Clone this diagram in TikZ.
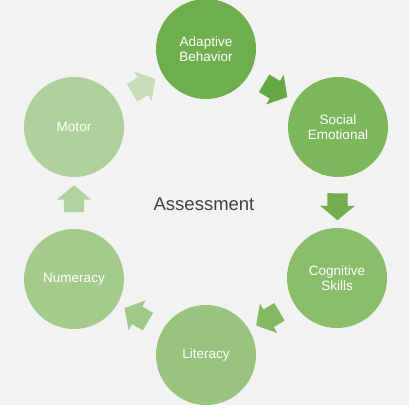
\documentclass[tikz,border=0pt]{standalone}
\usepackage{fontspec}
\setmainfont{Liberation Sans}
\usetikzlibrary{shapes.arrows}
\definecolor{bg}{HTML}{F2F2F2}
\definecolor{c1}{HTML}{6EAE4C}
\definecolor{c2}{HTML}{7DB75C}
\definecolor{c3}{HTML}{8BBE6A}
\definecolor{c4}{HTML}{98C47D}
\definecolor{c5}{HTML}{A4CB8B}
\definecolor{c6}{HTML}{AFD09B}
\definecolor{a1}{HTML}{66A843}
\definecolor{a2}{HTML}{72AE4E}
\definecolor{a3}{HTML}{84B963}
\definecolor{a4}{HTML}{A0CA88}
\definecolor{a5}{HTML}{AFD29F}
\definecolor{a6}{HTML}{C7DDBA}
\definecolor{txt}{HTML}{404040}
\tikzset{
  circ/.style={circle, minimum size=100pt, inner sep=0pt, align=center,
    text=white, font=\fontsize{13.5}{15}\selectfont},
  blockarrow/.style={single arrow, draw=none, minimum height=27pt,
    single arrow head extend=7pt, single arrow tip angle=100,
    inner xsep=0pt, inner ysep=10pt, text height=0pt, text depth=0pt,
    sloped, allow upside down, anchor=center}
}
\begin{document}
\begin{tikzpicture}[x=1pt,y=-1pt]
\useasboundingbox (0,0) rectangle (409,409);
\clip (0,0) rectangle (409,409);
\fill[white] (0,0) rectangle (409,409);
\fill[bg] (0,0) rectangle (409,405);
\node[circ, fill=c1] (ab) at (206,49) {Adaptive\\Behavior};
\node[circ, fill=c2] (se) at (338,127) {Social\\Emotional};
\node[circ, fill=c3] (cs) at (337,278) {Cognitive\\Skills};
\node[circ, fill=c4] (li) at (206,355) {Literacy};
\node[circ, fill=c5] (nu) at (74,279) {Numeracy};
\node[circ, fill=c6] (mo) at (74,127) {Motor};
\node[text=txt, font=\fontsize{18.5}{20}\selectfont] (as) at (204,204) {Assessment};
\path (ab) -- node[blockarrow, fill=a1] (r1) {} (se);
\path (se) -- node[blockarrow, fill=a2] (r2) {} (cs);
\path (cs) -- node[blockarrow, fill=a3] (r3) {} (li);
\path (li) -- node[blockarrow, fill=a4] (r4) {} (nu);
\path (nu) -- node[blockarrow, fill=a5] (r5) {} (mo);
\path (mo) -- node[blockarrow, fill=a6] (r6) {} (ab);
\end{tikzpicture}
\end{document}
